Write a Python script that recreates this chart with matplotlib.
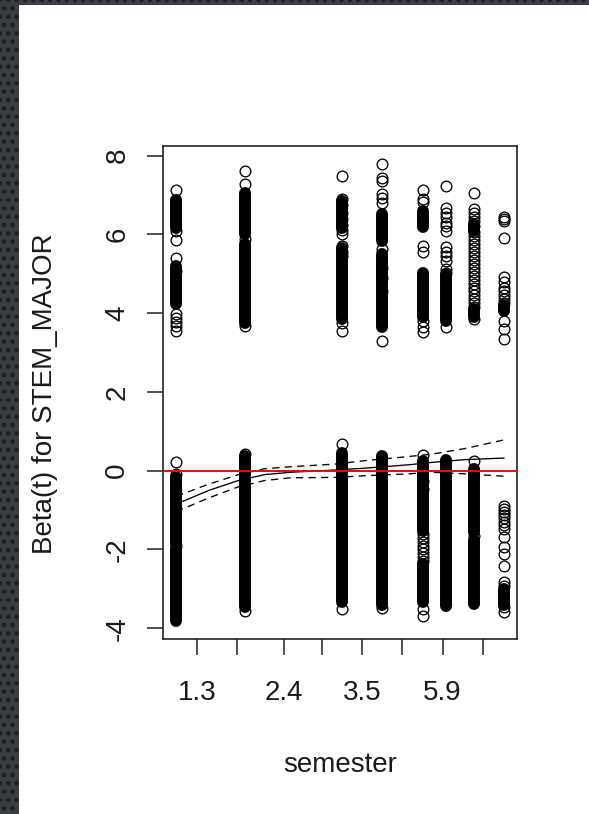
import matplotlib
matplotlib.use("Agg")
import matplotlib.pyplot as plt
from matplotlib.patches import Rectangle
import numpy as np

plt.rcParams['font.family'] = ['Liberation Sans', 'DejaVu Sans']

# transformed time of each group of residuals (km scale)
col_x = [0.00, 0.209, 0.506, 0.629, 0.752, 0.822, 0.908, 1.00]

# dense stretches of overlapping circles: (low, high) per column
upper_runs = [
    [(6.15, 6.88), (4.23, 5.2)],
    [(6.0, 7.05), (3.75, 5.75)],
    [(6.15, 6.85), (3.85, 5.65)],
    [(5.84, 6.51), (3.64, 5.1), (4.95, 5.5)],
    [(6.18, 6.6), (3.89, 5.03)],
    [(3.81, 5.0)],
    [(6.09, 6.27), (3.9, 4.1)],
    [(4.06, 4.2)],
]
lower_runs = [
    [(-1.85, -0.17), (-3.81, -2.0)],
    [(-3.47, 0.38)],
    [(-3.34, 0.46)],
    [(-3.42, 0.38)],
    [(-1.52, 0.25), (-3.34, -2.37)],
    [(-3.43, 0.28)],
    [(-1.55, 0.05), (-3.38, -1.75)],
    [(-3.4, -3.0)],
]

# single circles that stand out from the stacks
upper_pts = [
    [7.12, 6.09, 5.86, 5.39, 5.08, 3.99, 3.88, 3.78, 3.68, 3.55],
    [7.61, 7.29, 5.88, 3.68],
    [7.49, 6.9, 6.75, 6.55, 6.4, 6.25, 6.1, 6.01, 5.71, 5.55, 5.45, 3.76, 3.55],
    [7.78, 7.44, 7.36, 7.03, 6.92, 6.8, 5.63, 5.15, 4.9, 4.57, 3.3],
    [7.12, 6.9, 6.82, 5.71, 5.54, 3.81, 3.64, 3.51],
    [7.23, 6.68, 6.55, 6.45, 6.3, 6.2, 6.09, 5.67, 5.55, 5.45, 5.33, 5.12, 5.02, 3.64],
    [7.06, 6.64, 6.55, 6.45, 6.35, 6.2, 6.05, 5.95, 5.85, 5.75, 5.65, 5.55, 5.45,
     5.35, 5.25, 5.15, 5.05, 4.95, 4.85, 4.75, 4.65, 4.55, 4.45, 4.35, 4.25, 4.15, 3.85],
    [6.45, 6.4, 6.33, 5.92, 4.93, 4.78, 4.65, 4.55, 4.45, 4.35, 4.25, 3.81, 3.6, 3.34],
]
lower_pts = [
    [0.21, -0.08, -1.92],
    [0.42, -3.55],
    [0.68, -3.51],
    [-3.48],
    [0.41, -0.25, -0.46, -1.6, -1.7, -1.8, -1.9, -2.0, -2.1, -2.2, -2.3, -3.51, -3.68],
    [],
    [0.24, -1.65],
    [-0.89, -0.97, -1.05, -1.13, -1.21, -1.3, -1.38, -1.47, -1.69, -1.95, -2.12,
     -2.41, -2.83, -2.92, -3.47, -3.6],
]

# smoothed beta(t) with confidence band
fit_x = [0.00, 0.02, 0.10, 0.19, 0.27, 0.35, 0.49, 0.57, 0.71, 0.78, 0.88, 1.00]
fit_y = [-0.83, -0.78, -0.50, -0.25, -0.10, -0.04, 0.02, 0.06, 0.15, 0.21, 0.28, 0.32]
fit_hi = [-0.64, -0.59, -0.34, -0.10, 0.05, 0.10, 0.17, 0.25, 0.36, 0.42, 0.56, 0.78]
fit_lo = [-1.03, -0.97, -0.69, -0.41, -0.25, -0.18, -0.17, -0.13, -0.08, -0.04, -0.08, -0.14]

x_ticks = [0.064, 0.187, 0.328, 0.445, 0.567, 0.690, 0.813, 0.936]
x_labels = ["1.3", "", "2.4", "", "3.5", "", "5.9", ""]
y_ticks = [-4, -2, 0, 2, 4, 6, 8]

W, H = 589, 814
fig = plt.figure(figsize=(W / 100, H / 100), dpi=100)

# slide background strips (dotted dark texture)
plt.rcParams['hatch.linewidth'] = 2.0
for xy, w, h in [((0, 0), 19 / W, 1), ((0, 1 - 5 / H), 1, 5 / H)]:
    fig.add_artist(Rectangle(xy, w, h, transform=fig.transFigure,
                             facecolor="#3a3d42", edgecolor="#1e2024",
                             hatch="..", lw=0, zorder=0))

ax = fig.add_axes([163 / W, 175 / H, 354 / W, 493 / H])

ms = 7.7
for i, x in enumerate(col_x):
    for runs in (upper_runs[i], lower_runs[i]):
        if runs:
            lc = ax.vlines([x] * len(runs), [r[0] for r in runs], [r[1] for r in runs],
                           color="black", lw=8.6, zorder=2)
            lc.set_capstyle("round")
    pts = upper_pts[i] + lower_pts[i]
    ax.plot([x] * len(pts), pts, "o", ms=ms, mfc="none", mec="black",
            mew=0.95, zorder=3)

ax.plot(fit_x, fit_y, color="black", lw=0.95, zorder=4)
ax.plot(fit_x, fit_hi, color="black", lw=0.95, dashes=(5.5, 4), zorder=4)
ax.plot(fit_x, fit_lo, color="black", lw=0.95, dashes=(5.5, 4), zorder=4)
ax.axhline(0, color="red", lw=1.4, zorder=5)

# R style limits: data range padded by 4%
xr = max(col_x) - min(col_x)
ax.set_xlim(min(col_x) - 0.04 * xr, max(col_x) + 0.04 * xr)
all_y = [v for c in upper_pts + lower_pts for v in c] + \
        [v for c in upper_runs + lower_runs for r in c for v in r]
yr = max(all_y) - min(all_y)
ax.set_ylim(min(all_y) - 0.04 * yr, max(all_y) + 0.04 * yr)

ax.set_xticks(x_ticks)
ax.set_xticklabels(x_labels)
ax.set_yticks(y_ticks)
ax.set_yticklabels([str(v) for v in y_ticks], rotation=90, va="center")
ax.tick_params(axis="both", length=11.5, width=1.1, labelsize=20, color="#222222",
               labelcolor="#1a1a1a")
ax.tick_params(axis="x", pad=18)
ax.tick_params(axis="y", pad=12)
for s in ax.spines.values():
    s.set_linewidth(1.2)
    s.set_color("#222222")

fig.text(340 / W, 1 - 772 / H, "semester", ha="center", va="baseline",
         fontsize=20, color="#1a1a1a")
fig.text(45 / W, 1 - 394 / H, "Beta(t) for STEM_MAJOR", ha="center", va="center",
         rotation=90, fontsize=20, color="#1a1a1a")

fig.savefig("out.png", dpi=100)
